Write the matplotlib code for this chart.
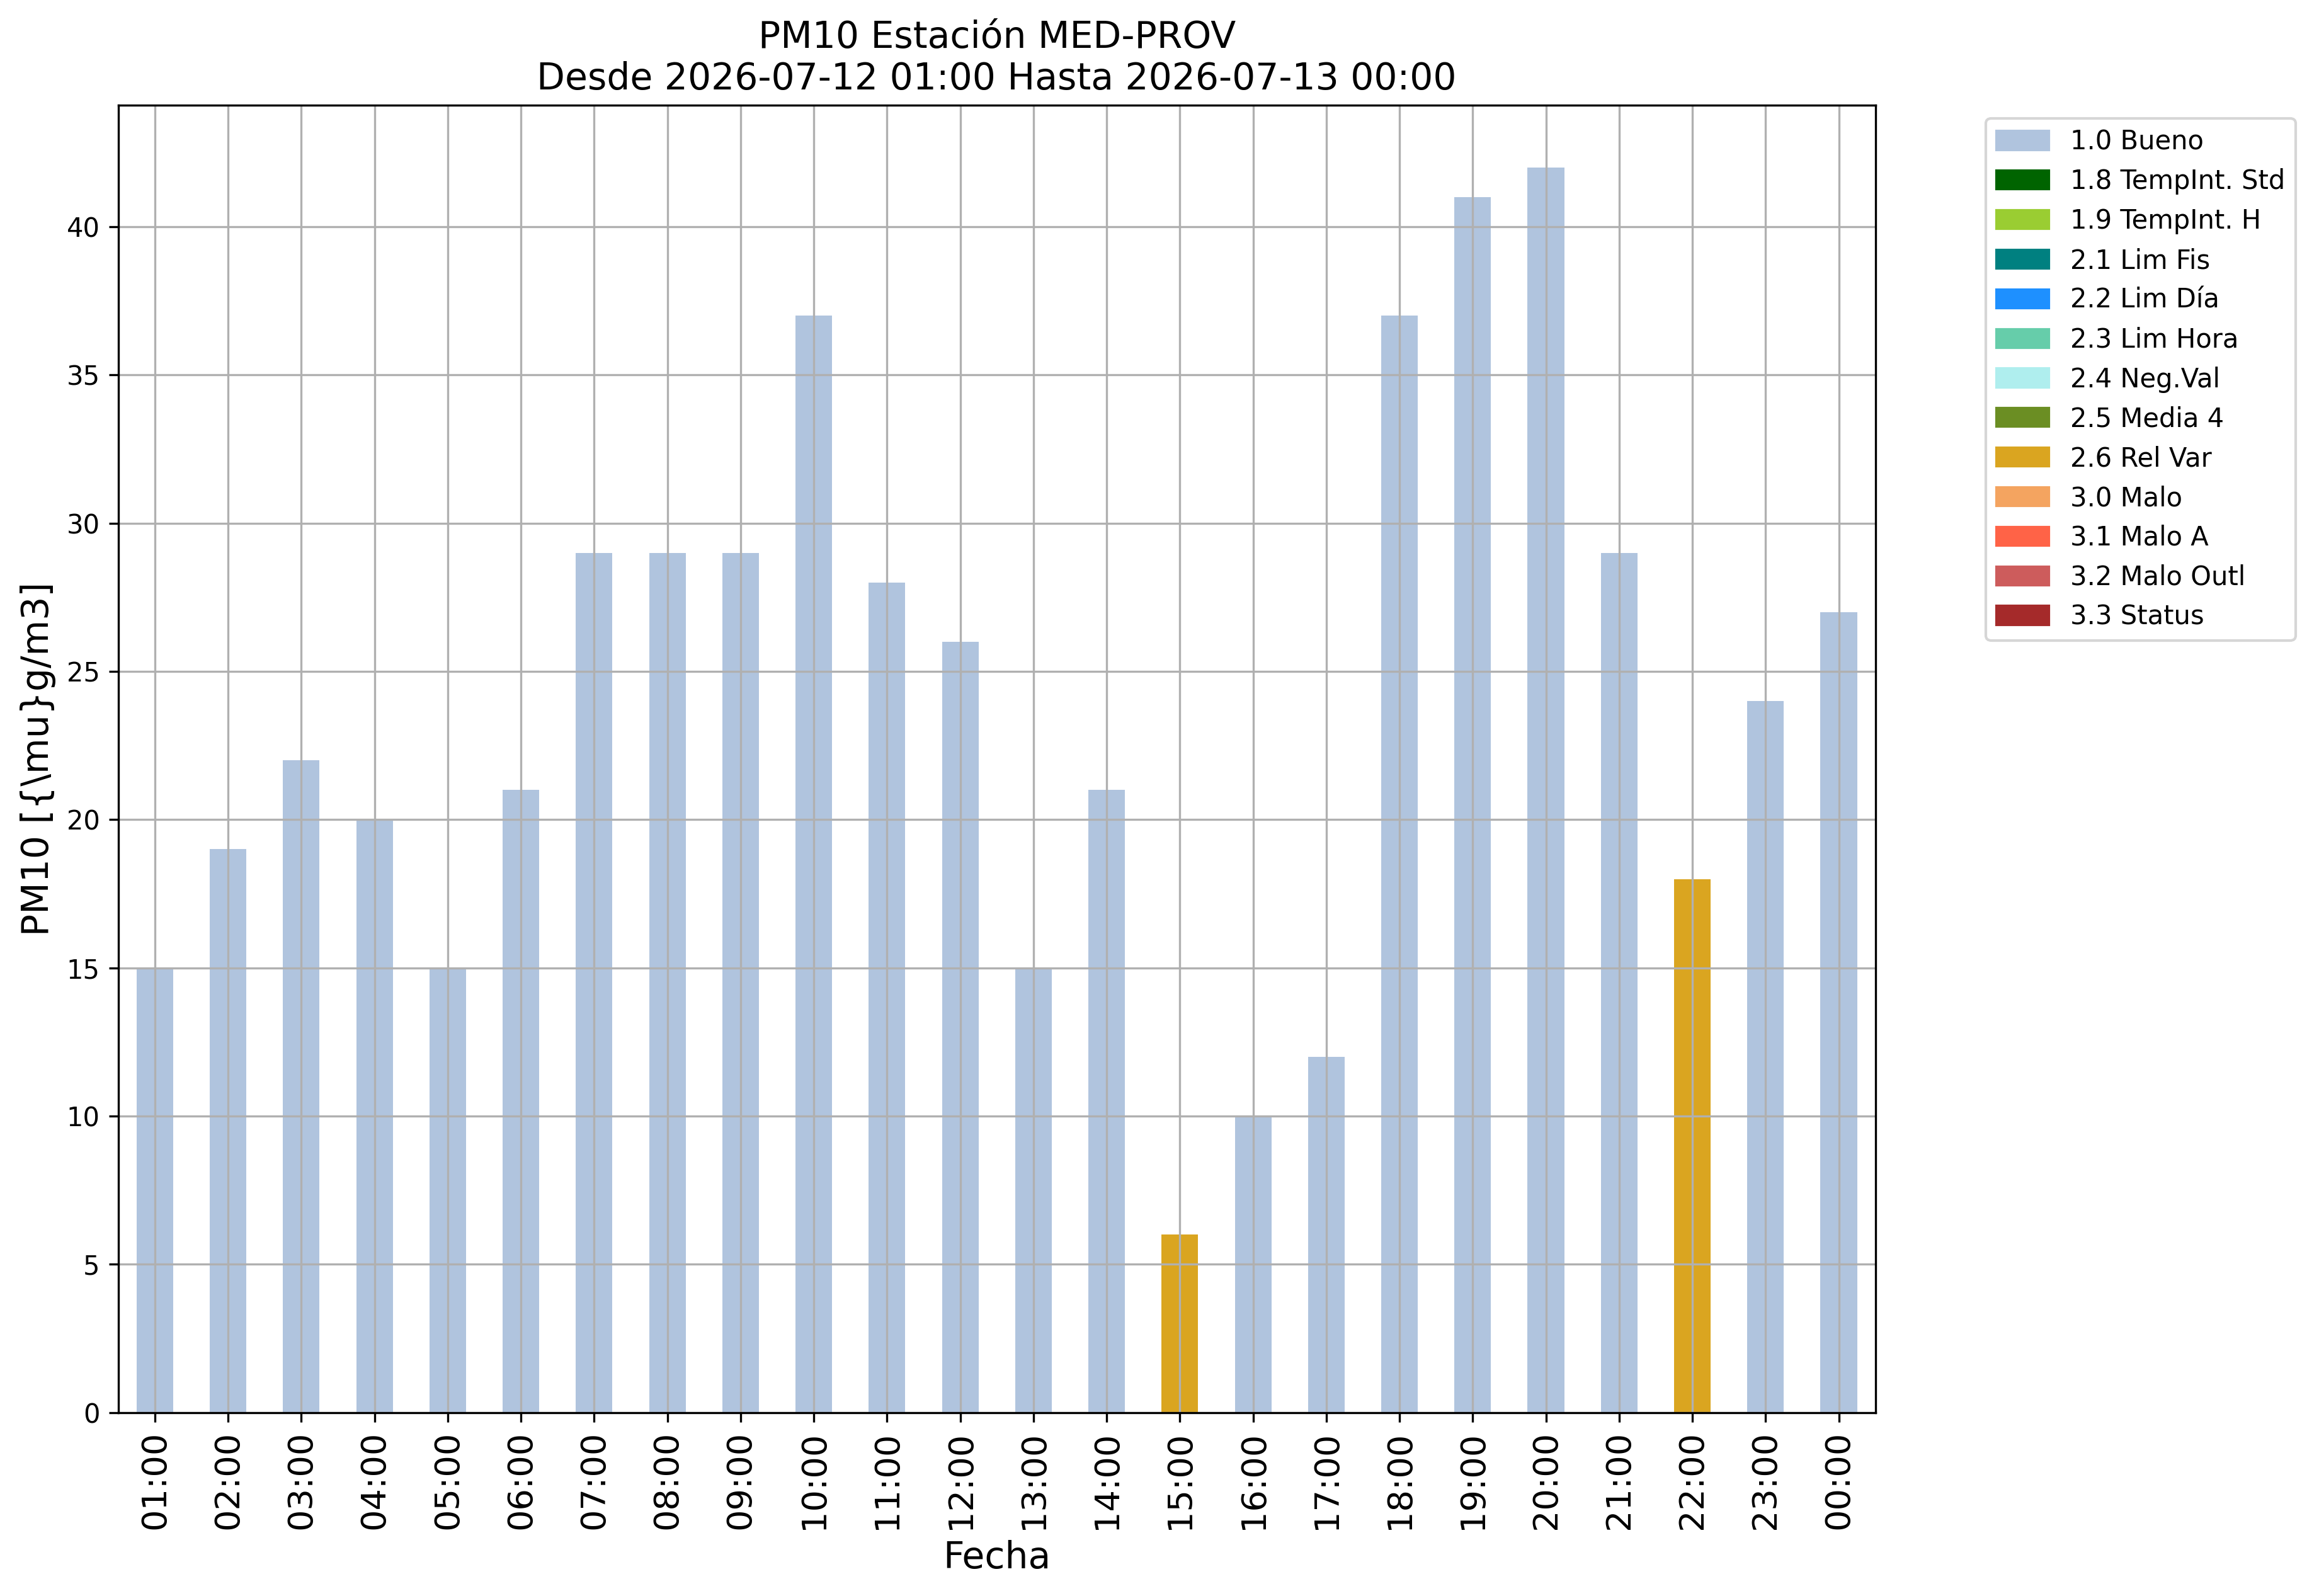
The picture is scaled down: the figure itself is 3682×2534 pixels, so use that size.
import matplotlib
matplotlib.use('Agg')
import matplotlib.pyplot as plt
import matplotlib.patches as mpatches
import numpy as np

hours = ['01:00', '02:00', '03:00', '04:00', '05:00', '06:00', '07:00', '08:00',
         '09:00', '10:00', '11:00', '12:00', '13:00', '14:00', '15:00', '16:00',
         '17:00', '18:00', '19:00', '20:00', '21:00', '22:00', '23:00', '00:00']
pm10 = [15, 19, 22, 20, 15, 21, 29, 29, 29, 37, 28, 26,
        15, 21, 6, 10, 12, 37, 41, 42, 29, 18, 24, 27]
flags = ['1.0', '1.0', '1.0', '1.0', '1.0', '1.0', '1.0', '1.0',
         '1.0', '1.0', '1.0', '1.0', '1.0', '1.0', '2.6', '1.0',
         '1.0', '1.0', '1.0', '1.0', '1.0', '2.6', '1.0', '1.0']

flag_codes = ['1.0', '1.8', '1.9', '2.1', '2.2', '2.3', '2.4', '2.5', '2.6',
              '3.0', '3.1', '3.2', '3.3']
flag_names = ['Bueno', 'TempInt. Std', 'TempInt. H', 'Lim Fis', 'Lim Día',
              'Lim Hora', 'Neg.Val', 'Media 4', 'Rel Var', 'Malo', 'Malo A',
              'Malo Outl', 'Status']
flag_colors = ['lightsteelblue', 'darkgreen', 'yellowgreen', 'teal', 'dodgerblue',
               'mediumaquamarine', 'paleturquoise', 'olivedrab', 'goldenrod',
               'sandybrown', 'tomato', 'indianred', 'brown']
colmap = dict(zip(flag_codes, flag_colors))

fig = plt.figure(figsize=(3682 / 300, 2534 / 300), dpi=300)
ax = fig.add_axes([0.0510, 0.115, 0.7577, 0.819])

x = np.arange(len(hours))
ax.bar(x, pm10, width=0.5, color=[colmap[f] for f in flags])
ax.set_xlim(-0.5, len(hours) - 0.5)
ax.set_ylim(0, max(pm10) * 1.05)
ax.set_xticks(x)
ax.set_xticklabels(hours, rotation=90, fontsize=13)
ax.tick_params(axis='y', labelsize=10)
ax.grid(True)

ax.set_title('PM10 Estación MED-PROV\nDesde 2026-07-12 01:00 Hasta 2026-07-13 00:00',
             fontsize=14)
ax.set_xlabel('Fecha', fontsize=14)
ax.set_ylabel('PM10 [{\\mu}g/m3]', fontsize=14)

handles = [mpatches.Patch(color=c, label=k + ' ' + n)
           for k, n, c in zip(flag_codes, flag_names, flag_colors)]
ax.legend(handles=handles, loc='upper left', bbox_to_anchor=(1.063, 0.99),
          borderaxespad=0, fontsize=10)

fig.savefig('out.png', dpi=300)
